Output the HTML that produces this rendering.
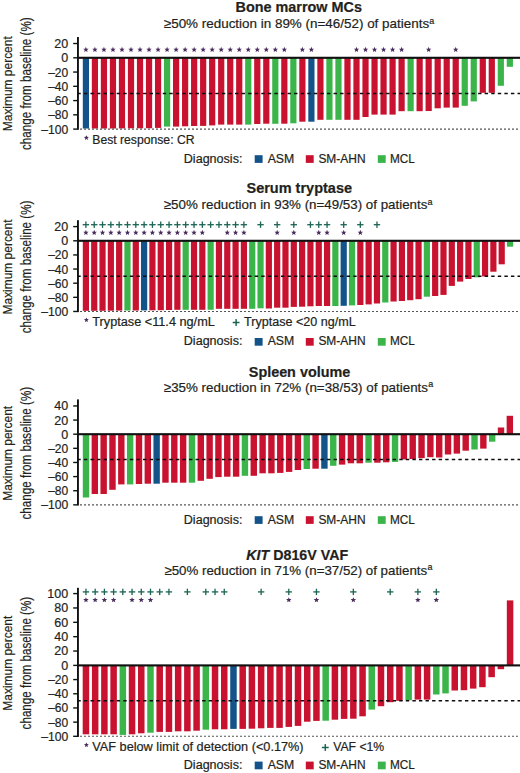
<!DOCTYPE html>
<html><head><meta charset="utf-8"><title>Waterfall plots</title>
<style>html,body{margin:0;padding:0;background:#fff;overflow:hidden}svg{display:block}text{font-family:"Liberation Sans", sans-serif;fill:#231f20;stroke:#231f20;stroke-width:0.2px}</style>
</head><body>
<svg width="520" height="773" viewBox="0 0 520 773">
<text x="235.50" y="11.90" font-size="14.4" text-anchor="start" font-weight="bold" textLength="126.50" lengthAdjust="spacingAndGlyphs">Bone marrow MCs</text>
<text x="163.80" y="28.20" font-size="13.2" text-anchor="start" textLength="265.30" lengthAdjust="spacingAndGlyphs">≥50% reduction in 89% (n=46/52) of patients</text>
<text x="429.30" y="23.70" font-size="8.2" text-anchor="start" textLength="5.00" lengthAdjust="spacingAndGlyphs">a</text>
<g transform="translate(12.4,83.75) rotate(-90)"><text x="-47.45" y="0" font-size="13.4" textLength="94.9" lengthAdjust="spacingAndGlyphs">Maximum percent</text></g>
<g transform="translate(30.9,83.65) rotate(-90)"><text x="-66.3" y="0" font-size="14.1" textLength="132.6" lengthAdjust="spacingAndGlyphs">change from baseline (%)</text></g>
<rect x="77.00" y="37.00" width="1.90" height="92.80" fill="#111"/>
<rect x="73.20" y="42.82" width="4.00" height="1.40" fill="#111"/>
<text x="68.20" y="47.97" font-size="12.5" text-anchor="end">20</text>
<rect x="73.20" y="57.10" width="4.00" height="1.40" fill="#111"/>
<text x="68.20" y="62.25" font-size="12.5" text-anchor="end">0</text>
<rect x="73.20" y="71.36" width="4.00" height="1.40" fill="#111"/>
<text x="68.20" y="76.51" font-size="12.5" text-anchor="end" textLength="20.05" lengthAdjust="spacingAndGlyphs">–20</text>
<rect x="73.20" y="85.62" width="4.00" height="1.40" fill="#111"/>
<text x="68.20" y="90.77" font-size="12.5" text-anchor="end" textLength="20.05" lengthAdjust="spacingAndGlyphs">–40</text>
<rect x="73.20" y="99.88" width="4.00" height="1.40" fill="#111"/>
<text x="68.20" y="105.03" font-size="12.5" text-anchor="end" textLength="20.05" lengthAdjust="spacingAndGlyphs">–60</text>
<rect x="73.20" y="114.14" width="4.00" height="1.40" fill="#111"/>
<text x="68.20" y="119.29" font-size="12.5" text-anchor="end" textLength="20.05" lengthAdjust="spacingAndGlyphs">–80</text>
<rect x="73.20" y="128.40" width="4.00" height="1.40" fill="#111"/>
<text x="68.20" y="133.55" font-size="12.5" text-anchor="end" textLength="27.00" lengthAdjust="spacingAndGlyphs">–100</text>
<rect x="82.80" y="57.80" width="6.20" height="70.70" fill="#14538a"/>
<rect x="91.82" y="57.80" width="6.20" height="70.70" fill="#c8122f"/>
<rect x="100.84" y="57.80" width="6.20" height="70.70" fill="#c8122f"/>
<rect x="109.86" y="57.80" width="6.20" height="70.70" fill="#c8122f"/>
<rect x="118.88" y="57.80" width="6.20" height="70.60" fill="#c8122f"/>
<rect x="127.90" y="57.80" width="6.20" height="70.50" fill="#c8122f"/>
<rect x="136.92" y="57.80" width="6.20" height="70.50" fill="#c8122f"/>
<rect x="145.94" y="57.80" width="6.20" height="70.40" fill="#c8122f"/>
<rect x="154.96" y="57.80" width="6.20" height="70.10" fill="#c8122f"/>
<rect x="163.98" y="57.80" width="6.20" height="68.80" fill="#3bb54a"/>
<rect x="173.00" y="57.80" width="6.20" height="68.80" fill="#c8122f"/>
<rect x="182.02" y="57.80" width="6.20" height="68.50" fill="#c8122f"/>
<rect x="191.04" y="57.80" width="6.20" height="68.20" fill="#c8122f"/>
<rect x="200.06" y="57.80" width="6.20" height="68.10" fill="#c8122f"/>
<rect x="209.08" y="57.80" width="6.20" height="67.60" fill="#c8122f"/>
<rect x="218.10" y="57.80" width="6.20" height="66.80" fill="#c8122f"/>
<rect x="227.12" y="57.80" width="6.20" height="66.80" fill="#c8122f"/>
<rect x="236.14" y="57.80" width="6.20" height="66.80" fill="#c8122f"/>
<rect x="245.16" y="57.80" width="6.20" height="66.80" fill="#3bb54a"/>
<rect x="254.18" y="57.80" width="6.20" height="66.20" fill="#c8122f"/>
<rect x="263.20" y="57.80" width="6.20" height="65.90" fill="#c8122f"/>
<rect x="272.22" y="57.80" width="6.20" height="66.00" fill="#3bb54a"/>
<rect x="281.24" y="57.80" width="6.20" height="65.90" fill="#c8122f"/>
<rect x="290.26" y="57.80" width="6.20" height="65.50" fill="#3bb54a"/>
<rect x="299.28" y="57.80" width="6.20" height="63.90" fill="#c8122f"/>
<rect x="308.30" y="57.80" width="6.20" height="63.90" fill="#14538a"/>
<rect x="317.32" y="57.80" width="6.20" height="62.00" fill="#c8122f"/>
<rect x="326.34" y="57.80" width="6.20" height="62.00" fill="#3bb54a"/>
<rect x="335.36" y="57.80" width="6.20" height="62.00" fill="#3bb54a"/>
<rect x="344.38" y="57.80" width="6.20" height="62.00" fill="#c8122f"/>
<rect x="353.40" y="57.80" width="6.20" height="62.00" fill="#c8122f"/>
<rect x="362.42" y="57.80" width="6.20" height="59.20" fill="#c8122f"/>
<rect x="371.44" y="57.80" width="6.20" height="56.80" fill="#c8122f"/>
<rect x="380.46" y="57.80" width="6.20" height="56.80" fill="#c8122f"/>
<rect x="389.48" y="57.80" width="6.20" height="56.80" fill="#c8122f"/>
<rect x="398.50" y="57.80" width="6.20" height="53.40" fill="#c8122f"/>
<rect x="407.52" y="57.80" width="6.20" height="53.40" fill="#3bb54a"/>
<rect x="416.54" y="57.80" width="6.20" height="53.40" fill="#c8122f"/>
<rect x="425.56" y="57.80" width="6.20" height="53.20" fill="#c8122f"/>
<rect x="434.58" y="57.80" width="6.20" height="50.50" fill="#c8122f"/>
<rect x="443.60" y="57.80" width="6.20" height="49.80" fill="#c8122f"/>
<rect x="452.62" y="57.80" width="6.20" height="49.80" fill="#c8122f"/>
<rect x="461.64" y="57.80" width="6.20" height="48.00" fill="#3bb54a"/>
<rect x="470.66" y="57.80" width="6.20" height="43.60" fill="#3bb54a"/>
<rect x="479.68" y="57.80" width="6.20" height="35.00" fill="#c8122f"/>
<rect x="488.70" y="57.80" width="6.20" height="35.00" fill="#c8122f"/>
<rect x="497.72" y="57.80" width="6.20" height="28.00" fill="#3bb54a"/>
<rect x="506.74" y="57.80" width="6.20" height="9.00" fill="#3bb54a"/>
<rect x="77.00" y="56.75" width="443.00" height="2.10" fill="#111"/>
<line x1="77.32" y1="93.45" x2="520" y2="93.45" stroke="#0d0d0d" stroke-width="1.5" stroke-dasharray="3.4 3.17"/>
<line x1="80" y1="129.10" x2="520" y2="129.10" stroke="#555" stroke-width="1.1" stroke-dasharray="2 2"/>
<polygon points="85.90,46.85 86.65,48.66 88.61,48.82 87.12,50.10 87.58,52.01 85.90,50.98 84.22,52.01 84.68,50.10 83.19,48.82 85.15,48.66" fill="#4a2d5e"/>
<polygon points="94.92,46.85 95.67,48.66 97.63,48.82 96.14,50.10 96.60,52.01 94.92,50.98 93.24,52.01 93.70,50.10 92.21,48.82 94.17,48.66" fill="#4a2d5e"/>
<polygon points="103.94,46.85 104.69,48.66 106.65,48.82 105.16,50.10 105.62,52.01 103.94,50.98 102.26,52.01 102.72,50.10 101.23,48.82 103.19,48.66" fill="#4a2d5e"/>
<polygon points="112.96,46.85 113.71,48.66 115.67,48.82 114.18,50.10 114.64,52.01 112.96,50.98 111.28,52.01 111.74,50.10 110.25,48.82 112.21,48.66" fill="#4a2d5e"/>
<polygon points="121.98,46.85 122.73,48.66 124.69,48.82 123.20,50.10 123.66,52.01 121.98,50.98 120.30,52.01 120.76,50.10 119.27,48.82 121.23,48.66" fill="#4a2d5e"/>
<polygon points="131.00,46.85 131.75,48.66 133.71,48.82 132.22,50.10 132.68,52.01 131.00,50.98 129.32,52.01 129.78,50.10 128.29,48.82 130.25,48.66" fill="#4a2d5e"/>
<polygon points="140.02,46.85 140.77,48.66 142.73,48.82 141.24,50.10 141.70,52.01 140.02,50.98 138.34,52.01 138.80,50.10 137.31,48.82 139.27,48.66" fill="#4a2d5e"/>
<polygon points="149.04,46.85 149.79,48.66 151.75,48.82 150.26,50.10 150.72,52.01 149.04,50.98 147.36,52.01 147.82,50.10 146.33,48.82 148.29,48.66" fill="#4a2d5e"/>
<polygon points="158.06,46.85 158.81,48.66 160.77,48.82 159.28,50.10 159.74,52.01 158.06,50.98 156.38,52.01 156.84,50.10 155.35,48.82 157.31,48.66" fill="#4a2d5e"/>
<polygon points="167.08,46.85 167.83,48.66 169.79,48.82 168.30,50.10 168.76,52.01 167.08,50.98 165.40,52.01 165.86,50.10 164.37,48.82 166.33,48.66" fill="#4a2d5e"/>
<polygon points="176.10,46.85 176.85,48.66 178.81,48.82 177.32,50.10 177.78,52.01 176.10,50.98 174.42,52.01 174.88,50.10 173.39,48.82 175.35,48.66" fill="#4a2d5e"/>
<polygon points="185.12,46.85 185.87,48.66 187.83,48.82 186.34,50.10 186.80,52.01 185.12,50.98 183.44,52.01 183.90,50.10 182.41,48.82 184.37,48.66" fill="#4a2d5e"/>
<polygon points="194.14,46.85 194.89,48.66 196.85,48.82 195.36,50.10 195.82,52.01 194.14,50.98 192.46,52.01 192.92,50.10 191.43,48.82 193.39,48.66" fill="#4a2d5e"/>
<polygon points="203.16,46.85 203.91,48.66 205.87,48.82 204.38,50.10 204.84,52.01 203.16,50.98 201.48,52.01 201.94,50.10 200.45,48.82 202.41,48.66" fill="#4a2d5e"/>
<polygon points="212.18,46.85 212.93,48.66 214.89,48.82 213.40,50.10 213.86,52.01 212.18,50.98 210.50,52.01 210.96,50.10 209.47,48.82 211.43,48.66" fill="#4a2d5e"/>
<polygon points="221.20,46.85 221.95,48.66 223.91,48.82 222.42,50.10 222.88,52.01 221.20,50.98 219.52,52.01 219.98,50.10 218.49,48.82 220.45,48.66" fill="#4a2d5e"/>
<polygon points="230.22,46.85 230.97,48.66 232.93,48.82 231.44,50.10 231.90,52.01 230.22,50.98 228.54,52.01 229.00,50.10 227.51,48.82 229.47,48.66" fill="#4a2d5e"/>
<polygon points="239.24,46.85 239.99,48.66 241.95,48.82 240.46,50.10 240.92,52.01 239.24,50.98 237.56,52.01 238.02,50.10 236.53,48.82 238.49,48.66" fill="#4a2d5e"/>
<polygon points="248.26,46.85 249.01,48.66 250.97,48.82 249.48,50.10 249.94,52.01 248.26,50.98 246.58,52.01 247.04,50.10 245.55,48.82 247.51,48.66" fill="#4a2d5e"/>
<polygon points="257.28,46.85 258.03,48.66 259.99,48.82 258.50,50.10 258.96,52.01 257.28,50.98 255.60,52.01 256.06,50.10 254.57,48.82 256.53,48.66" fill="#4a2d5e"/>
<polygon points="266.30,46.85 267.05,48.66 269.01,48.82 267.52,50.10 267.98,52.01 266.30,50.98 264.62,52.01 265.08,50.10 263.59,48.82 265.55,48.66" fill="#4a2d5e"/>
<polygon points="275.32,46.85 276.07,48.66 278.03,48.82 276.54,50.10 277.00,52.01 275.32,50.98 273.64,52.01 274.10,50.10 272.61,48.82 274.57,48.66" fill="#4a2d5e"/>
<polygon points="284.34,46.85 285.09,48.66 287.05,48.82 285.56,50.10 286.02,52.01 284.34,50.98 282.66,52.01 283.12,50.10 281.63,48.82 283.59,48.66" fill="#4a2d5e"/>
<polygon points="302.38,46.85 303.13,48.66 305.09,48.82 303.60,50.10 304.06,52.01 302.38,50.98 300.70,52.01 301.16,50.10 299.67,48.82 301.63,48.66" fill="#4a2d5e"/>
<polygon points="311.40,46.85 312.15,48.66 314.11,48.82 312.62,50.10 313.08,52.01 311.40,50.98 309.72,52.01 310.18,50.10 308.69,48.82 310.65,48.66" fill="#4a2d5e"/>
<polygon points="356.50,46.85 357.25,48.66 359.21,48.82 357.72,50.10 358.18,52.01 356.50,50.98 354.82,52.01 355.28,50.10 353.79,48.82 355.75,48.66" fill="#4a2d5e"/>
<polygon points="365.52,46.85 366.27,48.66 368.23,48.82 366.74,50.10 367.20,52.01 365.52,50.98 363.84,52.01 364.30,50.10 362.81,48.82 364.77,48.66" fill="#4a2d5e"/>
<polygon points="374.54,46.85 375.29,48.66 377.25,48.82 375.76,50.10 376.22,52.01 374.54,50.98 372.86,52.01 373.32,50.10 371.83,48.82 373.79,48.66" fill="#4a2d5e"/>
<polygon points="383.56,46.85 384.31,48.66 386.27,48.82 384.78,50.10 385.24,52.01 383.56,50.98 381.88,52.01 382.34,50.10 380.85,48.82 382.81,48.66" fill="#4a2d5e"/>
<polygon points="392.58,46.85 393.33,48.66 395.29,48.82 393.80,50.10 394.26,52.01 392.58,50.98 390.90,52.01 391.36,50.10 389.87,48.82 391.83,48.66" fill="#4a2d5e"/>
<polygon points="401.60,46.85 402.35,48.66 404.31,48.82 402.82,50.10 403.28,52.01 401.60,50.98 399.92,52.01 400.38,50.10 398.89,48.82 400.85,48.66" fill="#4a2d5e"/>
<polygon points="428.66,46.85 429.41,48.66 431.37,48.82 429.88,50.10 430.34,52.01 428.66,50.98 426.98,52.01 427.44,50.10 425.95,48.82 427.91,48.66" fill="#4a2d5e"/>
<polygon points="455.72,46.85 456.47,48.66 458.43,48.82 456.94,50.10 457.40,52.01 455.72,50.98 454.04,52.01 454.50,50.10 453.01,48.82 454.97,48.66" fill="#4a2d5e"/>
<polygon points="86.40,135.20 87.09,136.85 88.87,137.00 87.51,138.16 87.93,139.90 86.40,138.97 84.87,139.90 85.29,138.16 83.93,137.00 85.71,136.85" fill="#4a2d5e"/>
<text x="92.30" y="143.70" font-size="12" text-anchor="start" textLength="102.20" lengthAdjust="spacingAndGlyphs">Best response: CR</text>
<text x="183.80" y="162.50" font-size="12" text-anchor="start" textLength="58.60" lengthAdjust="spacingAndGlyphs">Diagnosis:</text>
<rect x="254.70" y="155.20" width="7.90" height="7.70" fill="#14538a"/>
<text x="267.70" y="162.50" font-size="12" text-anchor="start" textLength="26.60" lengthAdjust="spacingAndGlyphs">ASM</text>
<rect x="305.80" y="155.20" width="7.90" height="7.70" fill="#c8122f"/>
<text x="318.40" y="162.50" font-size="12" text-anchor="start" textLength="47.20" lengthAdjust="spacingAndGlyphs">SM-AHN</text>
<rect x="377.80" y="155.20" width="7.90" height="7.70" fill="#3bb54a"/>
<text x="390.00" y="162.50" font-size="12" text-anchor="start" textLength="24.90" lengthAdjust="spacingAndGlyphs">MCL</text>
<text x="246.50" y="193.20" font-size="14.4" text-anchor="start" font-weight="bold" textLength="105.50" lengthAdjust="spacingAndGlyphs">Serum tryptase</text>
<text x="163.80" y="209.00" font-size="13.2" text-anchor="start" textLength="263.60" lengthAdjust="spacingAndGlyphs">≥50% reduction in 93% (n=49/53) of patients</text>
<text x="427.60" y="204.50" font-size="8.2" text-anchor="start" textLength="5.00" lengthAdjust="spacingAndGlyphs">a</text>
<g transform="translate(12.4,267.00) rotate(-90)"><text x="-47.45" y="0" font-size="13.4" textLength="94.9" lengthAdjust="spacingAndGlyphs">Maximum percent</text></g>
<g transform="translate(30.9,266.90) rotate(-90)"><text x="-66.3" y="0" font-size="14.1" textLength="132.6" lengthAdjust="spacingAndGlyphs">change from baseline (%)</text></g>
<rect x="77.00" y="220.20" width="1.90" height="91.96" fill="#111"/>
<rect x="73.20" y="225.90" width="4.00" height="1.40" fill="#111"/>
<text x="68.20" y="231.05" font-size="12.5" text-anchor="end">20</text>
<rect x="73.20" y="240.10" width="4.00" height="1.40" fill="#111"/>
<text x="68.20" y="245.25" font-size="12.5" text-anchor="end">0</text>
<rect x="73.20" y="254.23" width="4.00" height="1.40" fill="#111"/>
<text x="68.20" y="259.38" font-size="12.5" text-anchor="end" textLength="20.05" lengthAdjust="spacingAndGlyphs">–20</text>
<rect x="73.20" y="268.36" width="4.00" height="1.40" fill="#111"/>
<text x="68.20" y="273.51" font-size="12.5" text-anchor="end" textLength="20.05" lengthAdjust="spacingAndGlyphs">–40</text>
<rect x="73.20" y="282.50" width="4.00" height="1.40" fill="#111"/>
<text x="68.20" y="287.65" font-size="12.5" text-anchor="end" textLength="20.05" lengthAdjust="spacingAndGlyphs">–60</text>
<rect x="73.20" y="296.63" width="4.00" height="1.40" fill="#111"/>
<text x="68.20" y="301.78" font-size="12.5" text-anchor="end" textLength="20.05" lengthAdjust="spacingAndGlyphs">–80</text>
<rect x="73.20" y="310.76" width="4.00" height="1.40" fill="#111"/>
<text x="68.20" y="315.91" font-size="12.5" text-anchor="end" textLength="27.00" lengthAdjust="spacingAndGlyphs">–100</text>
<rect x="82.80" y="240.80" width="6.20" height="70.00" fill="#c8122f"/>
<rect x="91.12" y="240.80" width="6.20" height="70.00" fill="#c8122f"/>
<rect x="99.43" y="240.80" width="6.20" height="70.00" fill="#c8122f"/>
<rect x="107.75" y="240.80" width="6.20" height="69.90" fill="#c8122f"/>
<rect x="116.06" y="240.80" width="6.20" height="69.80" fill="#c8122f"/>
<rect x="124.38" y="240.80" width="6.20" height="69.70" fill="#3bb54a"/>
<rect x="132.70" y="240.80" width="6.20" height="69.70" fill="#c8122f"/>
<rect x="141.01" y="240.80" width="6.20" height="69.60" fill="#14538a"/>
<rect x="149.33" y="240.80" width="6.20" height="69.50" fill="#c8122f"/>
<rect x="157.64" y="240.80" width="6.20" height="69.40" fill="#c8122f"/>
<rect x="165.96" y="240.80" width="6.20" height="69.20" fill="#c8122f"/>
<rect x="174.28" y="240.80" width="6.20" height="69.00" fill="#c8122f"/>
<rect x="182.59" y="240.80" width="6.20" height="69.00" fill="#3bb54a"/>
<rect x="190.91" y="240.80" width="6.20" height="69.00" fill="#c8122f"/>
<rect x="199.22" y="240.80" width="6.20" height="69.00" fill="#c8122f"/>
<rect x="207.54" y="240.80" width="6.20" height="69.00" fill="#3bb54a"/>
<rect x="215.86" y="240.80" width="6.20" height="68.00" fill="#c8122f"/>
<rect x="224.17" y="240.80" width="6.20" height="68.00" fill="#c8122f"/>
<rect x="232.49" y="240.80" width="6.20" height="68.00" fill="#c8122f"/>
<rect x="240.80" y="240.80" width="6.20" height="68.00" fill="#c8122f"/>
<rect x="249.12" y="240.80" width="6.20" height="68.00" fill="#3bb54a"/>
<rect x="257.44" y="240.80" width="6.20" height="67.50" fill="#3bb54a"/>
<rect x="265.75" y="240.80" width="6.20" height="67.70" fill="#c8122f"/>
<rect x="274.07" y="240.80" width="6.20" height="66.90" fill="#c8122f"/>
<rect x="282.38" y="240.80" width="6.20" height="66.90" fill="#c8122f"/>
<rect x="290.70" y="240.80" width="6.20" height="66.10" fill="#c8122f"/>
<rect x="299.02" y="240.80" width="6.20" height="65.90" fill="#c8122f"/>
<rect x="307.33" y="240.80" width="6.20" height="65.50" fill="#c8122f"/>
<rect x="315.65" y="240.80" width="6.20" height="65.20" fill="#c8122f"/>
<rect x="323.96" y="240.80" width="6.20" height="65.20" fill="#c8122f"/>
<rect x="332.28" y="240.80" width="6.20" height="65.20" fill="#3bb54a"/>
<rect x="340.60" y="240.80" width="6.20" height="65.00" fill="#14538a"/>
<rect x="348.91" y="240.80" width="6.20" height="64.60" fill="#3bb54a"/>
<rect x="357.23" y="240.80" width="6.20" height="64.20" fill="#c8122f"/>
<rect x="365.54" y="240.80" width="6.20" height="63.60" fill="#c8122f"/>
<rect x="373.86" y="240.80" width="6.20" height="62.70" fill="#c8122f"/>
<rect x="382.18" y="240.80" width="6.20" height="61.70" fill="#3bb54a"/>
<rect x="390.49" y="240.80" width="6.20" height="60.70" fill="#c8122f"/>
<rect x="398.81" y="240.80" width="6.20" height="60.20" fill="#c8122f"/>
<rect x="407.12" y="240.80" width="6.20" height="59.40" fill="#c8122f"/>
<rect x="415.44" y="240.80" width="6.20" height="58.40" fill="#c8122f"/>
<rect x="423.76" y="240.80" width="6.20" height="55.90" fill="#3bb54a"/>
<rect x="432.07" y="240.80" width="6.20" height="55.20" fill="#c8122f"/>
<rect x="440.39" y="240.80" width="6.20" height="54.10" fill="#c8122f"/>
<rect x="448.70" y="240.80" width="6.20" height="45.10" fill="#c8122f"/>
<rect x="457.02" y="240.80" width="6.20" height="40.80" fill="#c8122f"/>
<rect x="465.34" y="240.80" width="6.20" height="38.20" fill="#c8122f"/>
<rect x="473.65" y="240.80" width="6.20" height="36.50" fill="#3bb54a"/>
<rect x="481.97" y="240.80" width="6.20" height="35.60" fill="#c8122f"/>
<rect x="490.28" y="240.80" width="6.20" height="30.90" fill="#c8122f"/>
<rect x="498.60" y="240.80" width="6.20" height="23.50" fill="#c8122f"/>
<rect x="506.92" y="240.80" width="6.20" height="5.90" fill="#3bb54a"/>
<rect x="77.00" y="239.75" width="443.00" height="2.10" fill="#111"/>
<line x1="77.32" y1="276.13" x2="520" y2="276.13" stroke="#0d0d0d" stroke-width="1.5" stroke-dasharray="3.4 3.17"/>
<line x1="80" y1="311.46" x2="520" y2="311.46" stroke="#555" stroke-width="1.1" stroke-dasharray="2 2"/>
<polygon points="85.90,229.85 86.65,231.66 88.61,231.82 87.12,233.10 87.58,235.01 85.90,233.98 84.22,235.01 84.68,233.10 83.19,231.82 85.15,231.66" fill="#4a2d5e"/>
<polygon points="94.22,229.85 94.97,231.66 96.93,231.82 95.44,233.10 95.89,235.01 94.22,233.98 92.54,235.01 93.00,233.10 91.51,231.82 93.46,231.66" fill="#4a2d5e"/>
<polygon points="102.53,229.85 103.29,231.66 105.24,231.82 103.75,233.10 104.21,235.01 102.53,233.98 100.86,235.01 101.31,233.10 99.82,231.82 101.78,231.66" fill="#4a2d5e"/>
<polygon points="110.85,229.85 111.60,231.66 113.56,231.82 112.07,233.10 112.52,235.01 110.85,233.98 109.17,235.01 109.63,233.10 108.14,231.82 110.09,231.66" fill="#4a2d5e"/>
<polygon points="119.16,229.85 119.92,231.66 121.87,231.82 120.38,233.10 120.84,235.01 119.16,233.98 117.49,235.01 117.94,233.10 116.45,231.82 118.41,231.66" fill="#4a2d5e"/>
<polygon points="127.48,229.85 128.23,231.66 130.19,231.82 128.70,233.10 129.16,235.01 127.48,233.98 125.80,235.01 126.26,233.10 124.77,231.82 126.73,231.66" fill="#4a2d5e"/>
<polygon points="135.80,229.85 136.55,231.66 138.51,231.82 137.02,233.10 137.47,235.01 135.80,233.98 134.12,235.01 134.58,233.10 133.09,231.82 135.04,231.66" fill="#4a2d5e"/>
<polygon points="144.11,229.85 144.87,231.66 146.82,231.82 145.33,233.10 145.79,235.01 144.11,233.98 142.44,235.01 142.89,233.10 141.40,231.82 143.36,231.66" fill="#4a2d5e"/>
<polygon points="152.43,229.85 153.18,231.66 155.14,231.82 153.65,233.10 154.10,235.01 152.43,233.98 150.75,235.01 151.21,233.10 149.72,231.82 151.67,231.66" fill="#4a2d5e"/>
<polygon points="160.74,229.85 161.50,231.66 163.45,231.82 161.96,233.10 162.42,235.01 160.74,233.98 159.07,235.01 159.52,233.10 158.03,231.82 159.99,231.66" fill="#4a2d5e"/>
<polygon points="169.06,229.85 169.81,231.66 171.77,231.82 170.28,233.10 170.74,235.01 169.06,233.98 167.38,235.01 167.84,233.10 166.35,231.82 168.31,231.66" fill="#4a2d5e"/>
<polygon points="177.38,229.85 178.13,231.66 180.09,231.82 178.60,233.10 179.05,235.01 177.38,233.98 175.70,235.01 176.16,233.10 174.67,231.82 176.62,231.66" fill="#4a2d5e"/>
<polygon points="185.69,229.85 186.45,231.66 188.40,231.82 186.91,233.10 187.37,235.01 185.69,233.98 184.02,235.01 184.47,233.10 182.98,231.82 184.94,231.66" fill="#4a2d5e"/>
<polygon points="194.01,229.85 194.76,231.66 196.72,231.82 195.23,233.10 195.68,235.01 194.01,233.98 192.33,235.01 192.79,233.10 191.30,231.82 193.25,231.66" fill="#4a2d5e"/>
<polygon points="202.32,229.85 203.08,231.66 205.03,231.82 203.54,233.10 204.00,235.01 202.32,233.98 200.65,235.01 201.10,233.10 199.61,231.82 201.57,231.66" fill="#4a2d5e"/>
<polygon points="227.27,229.85 228.03,231.66 229.98,231.82 228.49,233.10 228.95,235.01 227.27,233.98 225.60,235.01 226.05,233.10 224.56,231.82 226.52,231.66" fill="#4a2d5e"/>
<polygon points="235.59,229.85 236.34,231.66 238.30,231.82 236.81,233.10 237.26,235.01 235.59,233.98 233.91,235.01 234.37,233.10 232.88,231.82 234.83,231.66" fill="#4a2d5e"/>
<polygon points="243.90,229.85 244.66,231.66 246.61,231.82 245.12,233.10 245.58,235.01 243.90,233.98 242.23,235.01 242.68,233.10 241.19,231.82 243.15,231.66" fill="#4a2d5e"/>
<polygon points="277.17,229.85 277.92,231.66 279.88,231.82 278.39,233.10 278.84,235.01 277.17,233.98 275.49,235.01 275.95,233.10 274.46,231.82 276.41,231.66" fill="#4a2d5e"/>
<polygon points="293.80,229.85 294.55,231.66 296.51,231.82 295.02,233.10 295.48,235.01 293.80,233.98 292.12,235.01 292.58,233.10 291.09,231.82 293.05,231.66" fill="#4a2d5e"/>
<polygon points="318.75,229.85 319.50,231.66 321.46,231.82 319.97,233.10 320.42,235.01 318.75,233.98 317.07,235.01 317.53,233.10 316.04,231.82 317.99,231.66" fill="#4a2d5e"/>
<polygon points="327.06,229.85 327.82,231.66 329.77,231.82 328.28,233.10 328.74,235.01 327.06,233.98 325.39,235.01 325.84,233.10 324.35,231.82 326.31,231.66" fill="#4a2d5e"/>
<polygon points="343.70,229.85 344.45,231.66 346.41,231.82 344.92,233.10 345.37,235.01 343.70,233.98 342.02,235.01 342.48,233.10 340.99,231.82 342.94,231.66" fill="#4a2d5e"/>
<polygon points="360.33,229.85 361.08,231.66 363.04,231.82 361.55,233.10 362.00,235.01 360.33,233.98 358.65,235.01 359.11,233.10 357.62,231.82 359.57,231.66" fill="#4a2d5e"/>
<rect x="82.70" y="224.05" width="6.40" height="1.30" fill="#1c6454"/>
<rect x="85.25" y="221.50" width="1.30" height="6.40" fill="#1c6454"/>
<rect x="91.02" y="224.05" width="6.40" height="1.30" fill="#1c6454"/>
<rect x="93.57" y="221.50" width="1.30" height="6.40" fill="#1c6454"/>
<rect x="99.33" y="224.05" width="6.40" height="1.30" fill="#1c6454"/>
<rect x="101.88" y="221.50" width="1.30" height="6.40" fill="#1c6454"/>
<rect x="107.65" y="224.05" width="6.40" height="1.30" fill="#1c6454"/>
<rect x="110.20" y="221.50" width="1.30" height="6.40" fill="#1c6454"/>
<rect x="115.96" y="224.05" width="6.40" height="1.30" fill="#1c6454"/>
<rect x="118.51" y="221.50" width="1.30" height="6.40" fill="#1c6454"/>
<rect x="124.28" y="224.05" width="6.40" height="1.30" fill="#1c6454"/>
<rect x="126.83" y="221.50" width="1.30" height="6.40" fill="#1c6454"/>
<rect x="132.60" y="224.05" width="6.40" height="1.30" fill="#1c6454"/>
<rect x="135.15" y="221.50" width="1.30" height="6.40" fill="#1c6454"/>
<rect x="140.91" y="224.05" width="6.40" height="1.30" fill="#1c6454"/>
<rect x="143.46" y="221.50" width="1.30" height="6.40" fill="#1c6454"/>
<rect x="149.23" y="224.05" width="6.40" height="1.30" fill="#1c6454"/>
<rect x="151.78" y="221.50" width="1.30" height="6.40" fill="#1c6454"/>
<rect x="157.54" y="224.05" width="6.40" height="1.30" fill="#1c6454"/>
<rect x="160.09" y="221.50" width="1.30" height="6.40" fill="#1c6454"/>
<rect x="165.86" y="224.05" width="6.40" height="1.30" fill="#1c6454"/>
<rect x="168.41" y="221.50" width="1.30" height="6.40" fill="#1c6454"/>
<rect x="174.18" y="224.05" width="6.40" height="1.30" fill="#1c6454"/>
<rect x="176.73" y="221.50" width="1.30" height="6.40" fill="#1c6454"/>
<rect x="182.49" y="224.05" width="6.40" height="1.30" fill="#1c6454"/>
<rect x="185.04" y="221.50" width="1.30" height="6.40" fill="#1c6454"/>
<rect x="190.81" y="224.05" width="6.40" height="1.30" fill="#1c6454"/>
<rect x="193.36" y="221.50" width="1.30" height="6.40" fill="#1c6454"/>
<rect x="199.12" y="224.05" width="6.40" height="1.30" fill="#1c6454"/>
<rect x="201.67" y="221.50" width="1.30" height="6.40" fill="#1c6454"/>
<rect x="207.44" y="224.05" width="6.40" height="1.30" fill="#1c6454"/>
<rect x="209.99" y="221.50" width="1.30" height="6.40" fill="#1c6454"/>
<rect x="215.76" y="224.05" width="6.40" height="1.30" fill="#1c6454"/>
<rect x="218.31" y="221.50" width="1.30" height="6.40" fill="#1c6454"/>
<rect x="224.07" y="224.05" width="6.40" height="1.30" fill="#1c6454"/>
<rect x="226.62" y="221.50" width="1.30" height="6.40" fill="#1c6454"/>
<rect x="232.39" y="224.05" width="6.40" height="1.30" fill="#1c6454"/>
<rect x="234.94" y="221.50" width="1.30" height="6.40" fill="#1c6454"/>
<rect x="240.70" y="224.05" width="6.40" height="1.30" fill="#1c6454"/>
<rect x="243.25" y="221.50" width="1.30" height="6.40" fill="#1c6454"/>
<rect x="257.34" y="224.05" width="6.40" height="1.30" fill="#1c6454"/>
<rect x="259.89" y="221.50" width="1.30" height="6.40" fill="#1c6454"/>
<rect x="273.97" y="224.05" width="6.40" height="1.30" fill="#1c6454"/>
<rect x="276.52" y="221.50" width="1.30" height="6.40" fill="#1c6454"/>
<rect x="290.60" y="224.05" width="6.40" height="1.30" fill="#1c6454"/>
<rect x="293.15" y="221.50" width="1.30" height="6.40" fill="#1c6454"/>
<rect x="307.23" y="224.05" width="6.40" height="1.30" fill="#1c6454"/>
<rect x="309.78" y="221.50" width="1.30" height="6.40" fill="#1c6454"/>
<rect x="315.55" y="224.05" width="6.40" height="1.30" fill="#1c6454"/>
<rect x="318.10" y="221.50" width="1.30" height="6.40" fill="#1c6454"/>
<rect x="323.86" y="224.05" width="6.40" height="1.30" fill="#1c6454"/>
<rect x="326.41" y="221.50" width="1.30" height="6.40" fill="#1c6454"/>
<rect x="340.50" y="224.05" width="6.40" height="1.30" fill="#1c6454"/>
<rect x="343.05" y="221.50" width="1.30" height="6.40" fill="#1c6454"/>
<rect x="357.13" y="224.05" width="6.40" height="1.30" fill="#1c6454"/>
<rect x="359.68" y="221.50" width="1.30" height="6.40" fill="#1c6454"/>
<rect x="373.76" y="224.05" width="6.40" height="1.30" fill="#1c6454"/>
<rect x="376.31" y="221.50" width="1.30" height="6.40" fill="#1c6454"/>
<polygon points="86.40,317.40 87.09,319.05 88.87,319.20 87.51,320.36 87.93,322.10 86.40,321.17 84.87,322.10 85.29,320.36 83.93,319.20 85.71,319.05" fill="#4a2d5e"/>
<text x="92.30" y="325.90" font-size="12" text-anchor="start" textLength="122.50" lengthAdjust="spacingAndGlyphs">Tryptase <11.4 ng/mL</text>
<rect x="232.70" y="321.75" width="6.80" height="1.50" fill="#1c6454"/>
<rect x="235.35" y="319.10" width="1.50" height="6.80" fill="#1c6454"/>
<text x="244.00" y="325.90" font-size="12" text-anchor="start" textLength="111.70" lengthAdjust="spacingAndGlyphs">Tryptase <20 ng/mL</text>
<text x="183.80" y="345.30" font-size="12" text-anchor="start" textLength="58.60" lengthAdjust="spacingAndGlyphs">Diagnosis:</text>
<rect x="254.70" y="338.00" width="7.90" height="7.70" fill="#14538a"/>
<text x="267.70" y="345.30" font-size="12" text-anchor="start" textLength="26.60" lengthAdjust="spacingAndGlyphs">ASM</text>
<rect x="305.80" y="338.00" width="7.90" height="7.70" fill="#c8122f"/>
<text x="318.40" y="345.30" font-size="12" text-anchor="start" textLength="47.20" lengthAdjust="spacingAndGlyphs">SM-AHN</text>
<rect x="377.80" y="338.00" width="7.90" height="7.70" fill="#3bb54a"/>
<text x="390.00" y="345.30" font-size="12" text-anchor="start" textLength="24.90" lengthAdjust="spacingAndGlyphs">MCL</text>
<text x="248.80" y="376.60" font-size="14.4" text-anchor="start" font-weight="bold" textLength="101.40" lengthAdjust="spacingAndGlyphs">Spleen volume</text>
<text x="163.80" y="391.70" font-size="13.2" text-anchor="start" textLength="264.20" lengthAdjust="spacingAndGlyphs">≥35% reduction in 72% (n=38/53) of patients</text>
<text x="428.20" y="387.20" font-size="8.2" text-anchor="start" textLength="5.00" lengthAdjust="spacingAndGlyphs">a</text>
<g transform="translate(12.4,453.30) rotate(-90)"><text x="-47.45" y="0" font-size="13.4" textLength="94.9" lengthAdjust="spacingAndGlyphs">Maximum percent</text></g>
<g transform="translate(30.9,453.20) rotate(-90)"><text x="-66.3" y="0" font-size="14.1" textLength="132.6" lengthAdjust="spacingAndGlyphs">change from baseline (%)</text></g>
<rect x="77.00" y="399.40" width="1.90" height="106.16" fill="#111"/>
<rect x="73.20" y="405.24" width="4.00" height="1.40" fill="#111"/>
<text x="68.20" y="410.39" font-size="12.5" text-anchor="end">40</text>
<rect x="73.20" y="419.37" width="4.00" height="1.40" fill="#111"/>
<text x="68.20" y="424.52" font-size="12.5" text-anchor="end">20</text>
<rect x="73.20" y="433.50" width="4.00" height="1.40" fill="#111"/>
<text x="68.20" y="438.65" font-size="12.5" text-anchor="end">0</text>
<rect x="73.20" y="447.63" width="4.00" height="1.40" fill="#111"/>
<text x="68.20" y="452.78" font-size="12.5" text-anchor="end" textLength="20.05" lengthAdjust="spacingAndGlyphs">–20</text>
<rect x="73.20" y="461.76" width="4.00" height="1.40" fill="#111"/>
<text x="68.20" y="466.91" font-size="12.5" text-anchor="end" textLength="20.05" lengthAdjust="spacingAndGlyphs">–40</text>
<rect x="73.20" y="475.90" width="4.00" height="1.40" fill="#111"/>
<text x="68.20" y="481.05" font-size="12.5" text-anchor="end" textLength="20.05" lengthAdjust="spacingAndGlyphs">–60</text>
<rect x="73.20" y="490.03" width="4.00" height="1.40" fill="#111"/>
<text x="68.20" y="495.18" font-size="12.5" text-anchor="end" textLength="20.05" lengthAdjust="spacingAndGlyphs">–80</text>
<rect x="73.20" y="504.16" width="4.00" height="1.40" fill="#111"/>
<text x="68.20" y="509.31" font-size="12.5" text-anchor="end" textLength="27.00" lengthAdjust="spacingAndGlyphs">–100</text>
<rect x="82.80" y="434.20" width="6.40" height="63.30" fill="#3bb54a"/>
<rect x="91.63" y="434.20" width="6.40" height="59.80" fill="#c8122f"/>
<rect x="100.46" y="434.20" width="6.40" height="59.80" fill="#c8122f"/>
<rect x="109.29" y="434.20" width="6.40" height="55.60" fill="#c8122f"/>
<rect x="118.12" y="434.20" width="6.40" height="50.20" fill="#c8122f"/>
<rect x="126.95" y="434.20" width="6.40" height="50.20" fill="#3bb54a"/>
<rect x="135.78" y="434.20" width="6.40" height="49.80" fill="#c8122f"/>
<rect x="144.61" y="434.20" width="6.40" height="49.50" fill="#c8122f"/>
<rect x="153.44" y="434.20" width="6.40" height="49.50" fill="#14538a"/>
<rect x="162.27" y="434.20" width="6.40" height="48.50" fill="#c8122f"/>
<rect x="171.10" y="434.20" width="6.40" height="48.50" fill="#c8122f"/>
<rect x="179.93" y="434.20" width="6.40" height="48.50" fill="#c8122f"/>
<rect x="188.76" y="434.20" width="6.40" height="48.50" fill="#3bb54a"/>
<rect x="197.59" y="434.20" width="6.40" height="46.60" fill="#c8122f"/>
<rect x="206.42" y="434.20" width="6.40" height="44.60" fill="#c8122f"/>
<rect x="215.25" y="434.20" width="6.40" height="42.90" fill="#c8122f"/>
<rect x="224.08" y="434.20" width="6.40" height="42.50" fill="#c8122f"/>
<rect x="232.91" y="434.20" width="6.40" height="42.50" fill="#c8122f"/>
<rect x="241.74" y="434.20" width="6.40" height="41.60" fill="#3bb54a"/>
<rect x="250.57" y="434.20" width="6.40" height="41.60" fill="#c8122f"/>
<rect x="259.40" y="434.20" width="6.40" height="39.10" fill="#c8122f"/>
<rect x="268.23" y="434.20" width="6.40" height="39.10" fill="#c8122f"/>
<rect x="277.06" y="434.20" width="6.40" height="38.70" fill="#c8122f"/>
<rect x="285.89" y="434.20" width="6.40" height="37.70" fill="#c8122f"/>
<rect x="294.72" y="434.20" width="6.40" height="35.80" fill="#c8122f"/>
<rect x="303.55" y="434.20" width="6.40" height="34.80" fill="#3bb54a"/>
<rect x="312.38" y="434.20" width="6.40" height="34.50" fill="#c8122f"/>
<rect x="321.21" y="434.20" width="6.40" height="34.50" fill="#14538a"/>
<rect x="330.04" y="434.20" width="6.40" height="31.60" fill="#3bb54a"/>
<rect x="338.87" y="434.20" width="6.40" height="30.40" fill="#c8122f"/>
<rect x="347.70" y="434.20" width="6.40" height="29.10" fill="#c8122f"/>
<rect x="356.53" y="434.20" width="6.40" height="29.10" fill="#c8122f"/>
<rect x="365.36" y="434.20" width="6.40" height="28.50" fill="#3bb54a"/>
<rect x="374.19" y="434.20" width="6.40" height="28.50" fill="#c8122f"/>
<rect x="383.02" y="434.20" width="6.40" height="28.10" fill="#c8122f"/>
<rect x="391.85" y="434.20" width="6.40" height="27.70" fill="#3bb54a"/>
<rect x="400.68" y="434.20" width="6.40" height="25.20" fill="#c8122f"/>
<rect x="409.51" y="434.20" width="6.40" height="24.80" fill="#c8122f"/>
<rect x="418.34" y="434.20" width="6.40" height="23.90" fill="#c8122f"/>
<rect x="427.17" y="434.20" width="6.40" height="23.00" fill="#c8122f"/>
<rect x="436.00" y="434.20" width="6.40" height="23.30" fill="#c8122f"/>
<rect x="444.83" y="434.20" width="6.40" height="20.30" fill="#c8122f"/>
<rect x="453.66" y="434.20" width="6.40" height="19.40" fill="#c8122f"/>
<rect x="462.49" y="434.20" width="6.40" height="16.50" fill="#c8122f"/>
<rect x="471.32" y="434.20" width="6.40" height="15.30" fill="#3bb54a"/>
<rect x="480.15" y="434.20" width="6.40" height="14.40" fill="#c8122f"/>
<rect x="488.98" y="434.20" width="6.40" height="7.50" fill="#3bb54a"/>
<rect x="497.81" y="427.50" width="6.40" height="6.70" fill="#c8122f"/>
<rect x="506.64" y="415.80" width="6.40" height="18.40" fill="#c8122f"/>
<rect x="77.00" y="433.15" width="443.00" height="2.10" fill="#111"/>
<line x1="77.32" y1="459.50" x2="520" y2="459.50" stroke="#0d0d0d" stroke-width="1.5" stroke-dasharray="3.4 3.17"/>
<line x1="80" y1="504.86" x2="520" y2="504.86" stroke="#555" stroke-width="1.1" stroke-dasharray="2 2"/>
<text x="183.80" y="523.50" font-size="12" text-anchor="start" textLength="58.60" lengthAdjust="spacingAndGlyphs">Diagnosis:</text>
<rect x="254.70" y="516.20" width="7.90" height="7.70" fill="#14538a"/>
<text x="267.70" y="523.50" font-size="12" text-anchor="start" textLength="26.60" lengthAdjust="spacingAndGlyphs">ASM</text>
<rect x="305.80" y="516.20" width="7.90" height="7.70" fill="#c8122f"/>
<text x="318.40" y="523.50" font-size="12" text-anchor="start" textLength="47.20" lengthAdjust="spacingAndGlyphs">SM-AHN</text>
<rect x="377.80" y="516.20" width="7.90" height="7.70" fill="#3bb54a"/>
<text x="390.00" y="523.50" font-size="12" text-anchor="start" textLength="24.90" lengthAdjust="spacingAndGlyphs">MCL</text>
<text x="246.30" y="559.70" font-size="14.4" text-anchor="start" font-weight="bold" textLength="101.90" lengthAdjust="spacingAndGlyphs"><tspan font-style="italic">KIT</tspan> D816V VAF</text>
<text x="164.40" y="574.60" font-size="13.2" text-anchor="start" textLength="262.80" lengthAdjust="spacingAndGlyphs">≥50% reduction in 71% (n=37/52) of patients</text>
<text x="427.40" y="570.10" font-size="8.2" text-anchor="start" textLength="5.00" lengthAdjust="spacingAndGlyphs">a</text>
<g transform="translate(12.4,663.20) rotate(-90)"><text x="-47.45" y="0" font-size="13.4" textLength="94.9" lengthAdjust="spacingAndGlyphs">Maximum percent</text></g>
<g transform="translate(30.9,663.10) rotate(-90)"><text x="-66.3" y="0" font-size="14.1" textLength="132.6" lengthAdjust="spacingAndGlyphs">change from baseline (%)</text></g>
<rect x="77.00" y="587.80" width="1.90" height="149.20" fill="#111"/>
<rect x="73.20" y="592.90" width="4.00" height="1.40" fill="#111"/>
<text x="68.20" y="598.05" font-size="12.5" text-anchor="end">100</text>
<rect x="73.20" y="607.26" width="4.00" height="1.40" fill="#111"/>
<text x="68.20" y="612.41" font-size="12.5" text-anchor="end">80</text>
<rect x="73.20" y="621.62" width="4.00" height="1.40" fill="#111"/>
<text x="68.20" y="626.77" font-size="12.5" text-anchor="end">60</text>
<rect x="73.20" y="635.98" width="4.00" height="1.40" fill="#111"/>
<text x="68.20" y="641.13" font-size="12.5" text-anchor="end">40</text>
<rect x="73.20" y="650.34" width="4.00" height="1.40" fill="#111"/>
<text x="68.20" y="655.49" font-size="12.5" text-anchor="end">20</text>
<rect x="73.20" y="664.70" width="4.00" height="1.40" fill="#111"/>
<text x="68.20" y="669.85" font-size="12.5" text-anchor="end">0</text>
<rect x="73.20" y="678.88" width="4.00" height="1.40" fill="#111"/>
<text x="68.20" y="684.03" font-size="12.5" text-anchor="end" textLength="20.05" lengthAdjust="spacingAndGlyphs">–20</text>
<rect x="73.20" y="693.06" width="4.00" height="1.40" fill="#111"/>
<text x="68.20" y="698.21" font-size="12.5" text-anchor="end" textLength="20.05" lengthAdjust="spacingAndGlyphs">–40</text>
<rect x="73.20" y="707.24" width="4.00" height="1.40" fill="#111"/>
<text x="68.20" y="712.39" font-size="12.5" text-anchor="end" textLength="20.05" lengthAdjust="spacingAndGlyphs">–60</text>
<rect x="73.20" y="721.42" width="4.00" height="1.40" fill="#111"/>
<text x="68.20" y="726.57" font-size="12.5" text-anchor="end" textLength="20.05" lengthAdjust="spacingAndGlyphs">–80</text>
<rect x="73.20" y="735.60" width="4.00" height="1.40" fill="#111"/>
<text x="68.20" y="740.75" font-size="12.5" text-anchor="end" textLength="27.00" lengthAdjust="spacingAndGlyphs">–100</text>
<rect x="82.70" y="665.40" width="6.50" height="68.90" fill="#c8122f"/>
<rect x="91.92" y="665.40" width="6.50" height="68.90" fill="#c8122f"/>
<rect x="101.14" y="665.40" width="6.50" height="68.90" fill="#c8122f"/>
<rect x="110.36" y="665.40" width="6.50" height="68.90" fill="#c8122f"/>
<rect x="119.58" y="665.40" width="6.50" height="69.50" fill="#3bb54a"/>
<rect x="128.80" y="665.40" width="6.50" height="68.90" fill="#c8122f"/>
<rect x="138.02" y="665.40" width="6.50" height="67.90" fill="#c8122f"/>
<rect x="147.24" y="665.40" width="6.50" height="67.30" fill="#3bb54a"/>
<rect x="156.46" y="665.40" width="6.50" height="66.50" fill="#c8122f"/>
<rect x="165.68" y="665.40" width="6.50" height="66.50" fill="#c8122f"/>
<rect x="174.90" y="665.40" width="6.50" height="65.90" fill="#c8122f"/>
<rect x="184.12" y="665.40" width="6.50" height="65.90" fill="#c8122f"/>
<rect x="193.34" y="665.40" width="6.50" height="65.30" fill="#c8122f"/>
<rect x="202.56" y="665.40" width="6.50" height="64.30" fill="#3bb54a"/>
<rect x="211.78" y="665.40" width="6.50" height="63.90" fill="#c8122f"/>
<rect x="221.00" y="665.40" width="6.50" height="63.90" fill="#c8122f"/>
<rect x="230.22" y="665.40" width="6.50" height="63.50" fill="#14538a"/>
<rect x="239.44" y="665.40" width="6.50" height="63.50" fill="#c8122f"/>
<rect x="248.66" y="665.40" width="6.50" height="63.30" fill="#c8122f"/>
<rect x="257.88" y="665.40" width="6.50" height="62.90" fill="#c8122f"/>
<rect x="267.10" y="665.40" width="6.50" height="62.50" fill="#c8122f"/>
<rect x="276.32" y="665.40" width="6.50" height="62.50" fill="#c8122f"/>
<rect x="285.54" y="665.40" width="6.50" height="61.50" fill="#c8122f"/>
<rect x="294.76" y="665.40" width="6.50" height="60.50" fill="#c8122f"/>
<rect x="303.98" y="665.40" width="6.50" height="56.30" fill="#c8122f"/>
<rect x="313.20" y="665.40" width="6.50" height="55.50" fill="#c8122f"/>
<rect x="322.42" y="665.40" width="6.50" height="55.30" fill="#3bb54a"/>
<rect x="331.64" y="665.40" width="6.50" height="54.30" fill="#c8122f"/>
<rect x="340.86" y="665.40" width="6.50" height="53.50" fill="#c8122f"/>
<rect x="350.08" y="665.40" width="6.50" height="53.30" fill="#c8122f"/>
<rect x="359.30" y="665.40" width="6.50" height="50.90" fill="#c8122f"/>
<rect x="368.52" y="665.40" width="6.50" height="44.20" fill="#3bb54a"/>
<rect x="377.74" y="665.40" width="6.50" height="40.80" fill="#c8122f"/>
<rect x="386.96" y="665.40" width="6.50" height="36.80" fill="#c8122f"/>
<rect x="396.18" y="665.40" width="6.50" height="35.40" fill="#c8122f"/>
<rect x="405.40" y="665.40" width="6.50" height="34.80" fill="#3bb54a"/>
<rect x="414.62" y="665.40" width="6.50" height="34.20" fill="#c8122f"/>
<rect x="423.84" y="665.40" width="6.50" height="34.20" fill="#c8122f"/>
<rect x="433.06" y="665.40" width="6.50" height="29.10" fill="#3bb54a"/>
<rect x="442.28" y="665.40" width="6.50" height="28.00" fill="#3bb54a"/>
<rect x="451.50" y="665.40" width="6.50" height="25.10" fill="#c8122f"/>
<rect x="460.72" y="665.40" width="6.50" height="24.80" fill="#c8122f"/>
<rect x="469.94" y="665.40" width="6.50" height="23.20" fill="#c8122f"/>
<rect x="479.16" y="665.40" width="6.50" height="21.80" fill="#c8122f"/>
<rect x="488.38" y="665.40" width="6.50" height="11.80" fill="#c8122f"/>
<rect x="497.60" y="665.40" width="6.50" height="3.80" fill="#c8122f"/>
<rect x="506.82" y="600.40" width="6.50" height="65.00" fill="#c8122f"/>
<rect x="77.00" y="664.35" width="443.00" height="2.10" fill="#111"/>
<line x1="77.32" y1="700.85" x2="520" y2="700.85" stroke="#0d0d0d" stroke-width="1.5" stroke-dasharray="3.4 3.17"/>
<line x1="80" y1="736.30" x2="520" y2="736.30" stroke="#555" stroke-width="1.1" stroke-dasharray="2 2"/>
<polygon points="85.95,597.15 86.70,598.96 88.66,599.12 87.17,600.40 87.63,602.31 85.95,601.28 84.27,602.31 84.73,600.40 83.24,599.12 85.20,598.96" fill="#4a2d5e"/>
<polygon points="95.17,597.15 95.92,598.96 97.88,599.12 96.39,600.40 96.85,602.31 95.17,601.28 93.49,602.31 93.95,600.40 92.46,599.12 94.42,598.96" fill="#4a2d5e"/>
<polygon points="104.39,597.15 105.14,598.96 107.10,599.12 105.61,600.40 106.07,602.31 104.39,601.28 102.71,602.31 103.17,600.40 101.68,599.12 103.64,598.96" fill="#4a2d5e"/>
<polygon points="113.61,597.15 114.36,598.96 116.32,599.12 114.83,600.40 115.29,602.31 113.61,601.28 111.93,602.31 112.39,600.40 110.90,599.12 112.86,598.96" fill="#4a2d5e"/>
<polygon points="132.05,597.15 132.80,598.96 134.76,599.12 133.27,600.40 133.73,602.31 132.05,601.28 130.37,602.31 130.83,600.40 129.34,599.12 131.30,598.96" fill="#4a2d5e"/>
<polygon points="141.27,597.15 142.02,598.96 143.98,599.12 142.49,600.40 142.95,602.31 141.27,601.28 139.59,602.31 140.05,600.40 138.56,599.12 140.52,598.96" fill="#4a2d5e"/>
<polygon points="150.49,597.15 151.24,598.96 153.20,599.12 151.71,600.40 152.17,602.31 150.49,601.28 148.81,602.31 149.27,600.40 147.78,599.12 149.74,598.96" fill="#4a2d5e"/>
<polygon points="288.79,597.15 289.54,598.96 291.50,599.12 290.01,600.40 290.47,602.31 288.79,601.28 287.11,602.31 287.57,600.40 286.08,599.12 288.04,598.96" fill="#4a2d5e"/>
<polygon points="316.45,597.15 317.20,598.96 319.16,599.12 317.67,600.40 318.13,602.31 316.45,601.28 314.77,602.31 315.23,600.40 313.74,599.12 315.70,598.96" fill="#4a2d5e"/>
<polygon points="353.33,597.15 354.08,598.96 356.04,599.12 354.55,600.40 355.01,602.31 353.33,601.28 351.65,602.31 352.11,600.40 350.62,599.12 352.58,598.96" fill="#4a2d5e"/>
<polygon points="417.87,597.15 418.62,598.96 420.58,599.12 419.09,600.40 419.55,602.31 417.87,601.28 416.19,602.31 416.65,600.40 415.16,599.12 417.12,598.96" fill="#4a2d5e"/>
<polygon points="436.31,597.15 437.06,598.96 439.02,599.12 437.53,600.40 437.99,602.31 436.31,601.28 434.63,602.31 435.09,600.40 433.60,599.12 435.56,598.96" fill="#4a2d5e"/>
<rect x="82.75" y="591.25" width="6.40" height="1.30" fill="#1c6454"/>
<rect x="85.30" y="588.70" width="1.30" height="6.40" fill="#1c6454"/>
<rect x="91.97" y="591.25" width="6.40" height="1.30" fill="#1c6454"/>
<rect x="94.52" y="588.70" width="1.30" height="6.40" fill="#1c6454"/>
<rect x="101.19" y="591.25" width="6.40" height="1.30" fill="#1c6454"/>
<rect x="103.74" y="588.70" width="1.30" height="6.40" fill="#1c6454"/>
<rect x="110.41" y="591.25" width="6.40" height="1.30" fill="#1c6454"/>
<rect x="112.96" y="588.70" width="1.30" height="6.40" fill="#1c6454"/>
<rect x="119.63" y="591.25" width="6.40" height="1.30" fill="#1c6454"/>
<rect x="122.18" y="588.70" width="1.30" height="6.40" fill="#1c6454"/>
<rect x="128.85" y="591.25" width="6.40" height="1.30" fill="#1c6454"/>
<rect x="131.40" y="588.70" width="1.30" height="6.40" fill="#1c6454"/>
<rect x="138.07" y="591.25" width="6.40" height="1.30" fill="#1c6454"/>
<rect x="140.62" y="588.70" width="1.30" height="6.40" fill="#1c6454"/>
<rect x="147.29" y="591.25" width="6.40" height="1.30" fill="#1c6454"/>
<rect x="149.84" y="588.70" width="1.30" height="6.40" fill="#1c6454"/>
<rect x="156.51" y="591.25" width="6.40" height="1.30" fill="#1c6454"/>
<rect x="159.06" y="588.70" width="1.30" height="6.40" fill="#1c6454"/>
<rect x="165.73" y="591.25" width="6.40" height="1.30" fill="#1c6454"/>
<rect x="168.28" y="588.70" width="1.30" height="6.40" fill="#1c6454"/>
<rect x="184.17" y="591.25" width="6.40" height="1.30" fill="#1c6454"/>
<rect x="186.72" y="588.70" width="1.30" height="6.40" fill="#1c6454"/>
<rect x="202.61" y="591.25" width="6.40" height="1.30" fill="#1c6454"/>
<rect x="205.16" y="588.70" width="1.30" height="6.40" fill="#1c6454"/>
<rect x="211.83" y="591.25" width="6.40" height="1.30" fill="#1c6454"/>
<rect x="214.38" y="588.70" width="1.30" height="6.40" fill="#1c6454"/>
<rect x="221.05" y="591.25" width="6.40" height="1.30" fill="#1c6454"/>
<rect x="223.60" y="588.70" width="1.30" height="6.40" fill="#1c6454"/>
<rect x="257.93" y="591.25" width="6.40" height="1.30" fill="#1c6454"/>
<rect x="260.48" y="588.70" width="1.30" height="6.40" fill="#1c6454"/>
<rect x="285.59" y="591.25" width="6.40" height="1.30" fill="#1c6454"/>
<rect x="288.14" y="588.70" width="1.30" height="6.40" fill="#1c6454"/>
<rect x="313.25" y="591.25" width="6.40" height="1.30" fill="#1c6454"/>
<rect x="315.80" y="588.70" width="1.30" height="6.40" fill="#1c6454"/>
<rect x="350.13" y="591.25" width="6.40" height="1.30" fill="#1c6454"/>
<rect x="352.68" y="588.70" width="1.30" height="6.40" fill="#1c6454"/>
<rect x="387.01" y="591.25" width="6.40" height="1.30" fill="#1c6454"/>
<rect x="389.56" y="588.70" width="1.30" height="6.40" fill="#1c6454"/>
<rect x="414.67" y="591.25" width="6.40" height="1.30" fill="#1c6454"/>
<rect x="417.22" y="588.70" width="1.30" height="6.40" fill="#1c6454"/>
<rect x="433.11" y="591.25" width="6.40" height="1.30" fill="#1c6454"/>
<rect x="435.66" y="588.70" width="1.30" height="6.40" fill="#1c6454"/>
<polygon points="86.40,742.40 87.09,744.05 88.87,744.20 87.51,745.36 87.93,747.10 86.40,746.17 84.87,747.10 85.29,745.36 83.93,744.20 85.71,744.05" fill="#4a2d5e"/>
<text x="92.30" y="750.90" font-size="12" text-anchor="start" textLength="211.30" lengthAdjust="spacingAndGlyphs">VAF below limit of detection (<0.17%)</text>
<rect x="321.90" y="746.75" width="6.80" height="1.50" fill="#1c6454"/>
<rect x="324.55" y="744.10" width="1.50" height="6.80" fill="#1c6454"/>
<text x="333.20" y="750.90" font-size="12" text-anchor="start" textLength="51.00" lengthAdjust="spacingAndGlyphs">VAF <1%</text>
<text x="183.80" y="768.90" font-size="12" text-anchor="start" textLength="58.60" lengthAdjust="spacingAndGlyphs">Diagnosis:</text>
<rect x="254.70" y="761.60" width="7.90" height="7.70" fill="#14538a"/>
<text x="267.70" y="768.90" font-size="12" text-anchor="start" textLength="26.60" lengthAdjust="spacingAndGlyphs">ASM</text>
<rect x="305.80" y="761.60" width="7.90" height="7.70" fill="#c8122f"/>
<text x="318.40" y="768.90" font-size="12" text-anchor="start" textLength="47.20" lengthAdjust="spacingAndGlyphs">SM-AHN</text>
<rect x="377.80" y="761.60" width="7.90" height="7.70" fill="#3bb54a"/>
<text x="390.00" y="768.90" font-size="12" text-anchor="start" textLength="24.90" lengthAdjust="spacingAndGlyphs">MCL</text>
</svg>
</body></html>
